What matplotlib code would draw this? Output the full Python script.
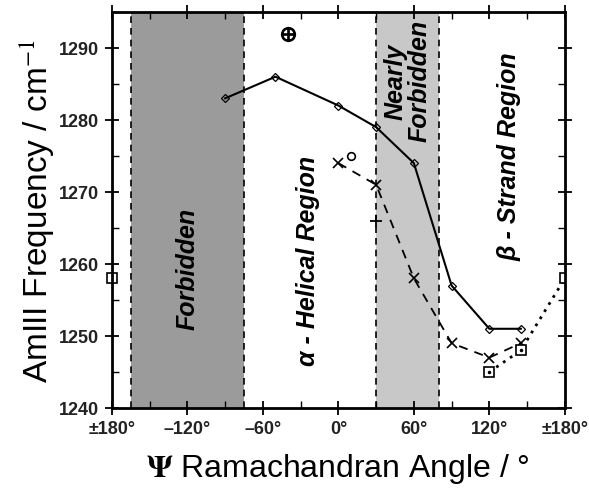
import matplotlib
matplotlib.use("Agg")
import matplotlib.pyplot as plt
from matplotlib.ticker import MultipleLocator

plt.rcParams['font.family'] = ['Liberation Sans', 'DejaVu Sans']
plt.rcParams['mathtext.fontset'] = 'stix'

# solid line, diamonds
psi_a = [-90, -50, 0, 30, 60, 90, 120, 145]
freq_a = [1283, 1286, 1282, 1279, 1274, 1257, 1251, 1251]

# dashed line, crosses
psi_b = [0, 30, 60, 90, 120, 145]
freq_b = [1274, 1271, 1258, 1249, 1247, 1249]

# dotted line, squares
psi_c = [120, 145, 180]
freq_c = [1245, 1248, 1258]
psi_c_edge = [-180]
freq_c_edge = [1258]

# single points
psi_plus, freq_plus = [30], [1266]
psi_circ, freq_circ = [10], [1275]
psi_oplus, freq_oplus = [-40], [1292]

forbidden = (-165, -75)
nearly = (30, 80)

xticks = [-180, -120, -60, 0, 60, 120, 180]
xticklabels = ['±180°', '–120°', '–60°', '0°', '60°', '120°', '±180°']
yticks = [1240, 1250, 1260, 1270, 1280, 1290]

fig = plt.figure(figsize=(5.89, 4.89), dpi=100)
ax = fig.add_axes([0.19, 0.1636, 0.769, 0.81])

ax.axvspan(*forbidden, color='#9b9b9b', lw=0)
ax.axvspan(*nearly, color='#c8c8c8', lw=0)
for v in [forbidden[0], forbidden[1], nearly[0], nearly[1]]:
    ax.axvline(v, color='black', ls=(0, (4, 3)), lw=1.2)

ax.plot(psi_a, freq_a, color='black', lw=1.5, marker='D', ms=4.5, mfc='none', mew=0.9)
ax.plot(psi_b, freq_b, color='black', lw=1.3, ls=(0, (5, 4)), marker='x', ms=7, mew=1.2)
ax.plot(psi_c, freq_c, color='black', lw=2, ls=(0, (1, 2)), marker='s', ms=7, mfc='white', mew=1.2)
ax.plot(psi_c[:2], freq_c[:2], ls='none', marker='.', ms=3, color='black')
ax.plot(psi_c_edge, freq_c_edge, ls='none', marker='s', ms=7, mfc='white', mec='black', mew=1.2, clip_on=False)
ax.plot(psi_plus, freq_plus, ls='none', marker='+', ms=9, mew=1.3, color='black')
ax.plot(psi_circ, freq_circ, ls='none', marker='o', ms=5.5, mfc='none', mew=1.2, color='black')
ax.plot(psi_oplus, freq_oplus, ls='none', marker='$\\oplus$', ms=10, color='black')

tkw = dict(fontsize=18, fontweight='bold', fontstyle='italic', rotation=90,
           ha='center', va='center')
ax.text(-120, 1259.5, 'Forbidden', **tkw)
ax.text(-24, 1260.5, 'α - Helical Region', **tkw)
ax.text(55, 1285.5, 'Nearly\nForbidden', linespacing=0.95, **tkw)
ax.text(136, 1275, 'β - Strand Region', **tkw)

ax.set_xlim(-180, 180)
ax.set_ylim(1240, 1295)
ax.set_xticks(xticks)
ax.set_xticklabels(xticklabels)
ax.set_yticks(yticks)
ax.xaxis.set_minor_locator(MultipleLocator(30))
ax.yaxis.set_minor_locator(MultipleLocator(5))
ax.tick_params(which='major', direction='inout', length=10, width=1.3,
               top=True, right=True, labelsize=13, pad=4)
ax.tick_params(which='minor', direction='in', length=5, width=1,
               top=True, right=True)
for lab in ax.get_xticklabels() + ax.get_yticklabels():
    lab.set_fontweight('bold')
    lab.set_color('#222222')
for s in ax.spines.values():
    s.set_linewidth(2)

ax.set_xlabel(r'$\mathbf{\Psi}$ Ramachandran Angle / °', fontsize=23, labelpad=10)
ax.set_ylabel('AmIII Frequency / cm$^{-1}$', fontsize=24, labelpad=2)

fig.savefig('out.png', dpi=100)
